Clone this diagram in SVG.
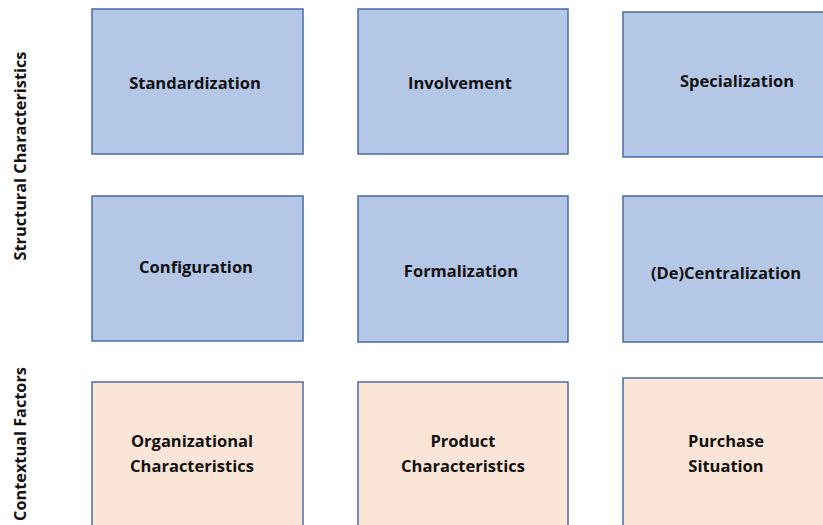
<svg xmlns="http://www.w3.org/2000/svg" width="823" height="525" viewBox="0 0 823 525">
  <style>
    .struct { fill: #b4c7e7; stroke: #4a6aa5; stroke-width: 1.5; }
    .context { fill: #fbe5d6; stroke: #4a6aa5; stroke-width: 1.5; }
    .label { font-family: "Open Sans", "Liberation Sans", sans-serif; font-weight: bold; font-size: 16.5px; fill: #111; text-anchor: middle; }
    .axis { font-family: "Open Sans", "Liberation Sans", sans-serif; font-weight: bold; font-size: 16.3px; fill: #111; text-anchor: middle; }
  </style>
  <rect width="823" height="525" fill="#ffffff"/>

  <!-- row titles -->
  <g id="title-structural">
    <text class="axis" transform="translate(26,156) rotate(-90)">Structural Characteristics</text>
  </g>
  <g id="title-contextual">
    <text class="axis" transform="translate(26,444) rotate(-90)">Contextual Factors</text>
  </g>

  <!-- structural characteristics -->
  <g id="standardization">
    <rect class="struct" x="92" y="9" width="211" height="145"/>
    <text class="label" x="195" y="89">Standardization</text>
  </g>
  <g id="involvement">
    <rect class="struct" x="358" y="9" width="210" height="145"/>
    <text class="label" x="460" y="89">Involvement</text>
  </g>
  <g id="specialization">
    <rect class="struct" x="623" y="12" width="230" height="145"/>
    <text class="label" x="737" y="87">Specialization</text>
  </g>
  <g id="configuration">
    <rect class="struct" x="92" y="196" width="211" height="145"/>
    <text class="label" x="196" y="273">Configuration</text>
  </g>
  <g id="formalization">
    <rect class="struct" x="358" y="196" width="210" height="146"/>
    <text class="label" x="461" y="277">Formalization</text>
  </g>
  <g id="decentralization">
    <rect class="struct" x="623" y="196" width="230" height="146"/>
    <text class="label" x="726" y="279">(De)Centralization</text>
  </g>

  <!-- contextual factors -->
  <g id="organizational-characteristics">
    <rect class="context" x="92" y="382" width="211" height="160"/>
    <text class="label" x="192" y="447">Organizational</text>
    <text class="label" x="192" y="472">Characteristics</text>
  </g>
  <g id="product-characteristics">
    <rect class="context" x="358" y="382" width="210" height="160"/>
    <text class="label" x="463" y="447">Product</text>
    <text class="label" x="463" y="472">Characteristics</text>
  </g>
  <g id="purchase-situation">
    <rect class="context" x="623" y="378" width="230" height="160"/>
    <text class="label" x="726" y="447">Purchase</text>
    <text class="label" x="726" y="472">Situation</text>
  </g>

  <g id="connectors"/>
</svg>
